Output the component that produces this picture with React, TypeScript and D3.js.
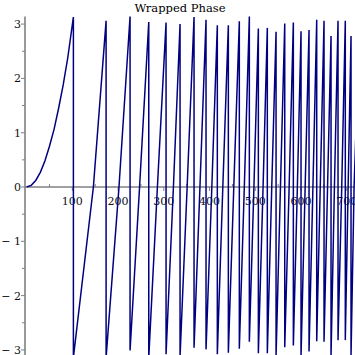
import React from "react";
import * as d3 from "d3";

// First (parabolic) rise
const firstX = [0, 10, 20, 30, 40, 50, 60, 70, 80, 90, 102.3];
const firstY = [0, 0.03, 0.12, 0.27, 0.48, 0.75, 1.06, 1.45, 1.88, 2.38, 3.13];

// x positions of each wrap (vertical drop)
const wrapX = [102.3, 173.8, 226.2, 267.1, 304.9, 335.5, 366.1, 392.3, 417.0, 441.1, 465.1, 487.0, 506.7, 526.3, 545.4, 564.4, 583.2, 600.0, 617.5, 634.3, 650.3, 665.6, 680.9, 696.8, 709.3];
// value just before each wrap
const peakY = [3.13, 3.06, 3.14, 3.04, 3.03, 3.0, 3.13, 3.08, 2.98, 2.98, 3.05, 3.14, 2.92, 2.93, 2.86, 3.01, 3.03, 2.87, 2.89, 3.08, 3.06, 2.78, 3.06, 3.06, 2.78];
// value just after each wrap
const troughY = [-3.14, -3.14, -3.01, -3.14, -3.08, -3.12, -2.96, -2.99, -3.08, -3.05, -2.98, -2.85, -3.06, -3.06, -3.12, -2.95, -2.92, -3.12, -3.03, -2.84, -2.85, -3.12, -2.82, -2.82, -3.12];
// zero crossings of the rising segments after each wrap
const zeroX = [146, 202, 247, 286, 321, 351, 379, 405, 429, 453, 476, 497, 517, 536, 555, 574, 592, 609, 626, 642, 658, 673, 689, 703, 716];
// end of the last partial rise
const lastX = 720;
const lastY = 1.0;

const xMajor = [100, 200, 300, 400, 500, 600, 700];
const xMinor = [50, 150, 250, 350, 450, 550, 650];
const yMajor = [-3, -2, -1, 0, 1, 2, 3];
const yMinor = [-2.5, -1.5, -0.5, 0.5, 1.5, 2.5];
const title = "Wrapped Phase";

export default function App() {
  const W = 355, H = 355;
  const x = d3.scaleLinear().domain([-3.5, 718]).range([25, 355]);
  const y = d3.scaleLinear().domain([-Math.PI, Math.PI]).range([357.6, 16.4]);

  const pts: [number, number][] = [];
  firstX.forEach((v, i) => pts.push([v, firstY[i]]));
  for (let k = 0; k < wrapX.length; k++) {
    if (k > 0) pts.push([wrapX[k], peakY[k]]);
    pts.push([wrapX[k], troughY[k]]);
    if (k < wrapX.length - 1) pts.push([zeroX[k], 0]);
  }
  pts.push([zeroX[zeroX.length - 1], 0]);
  pts.push([lastX, lastY]);

  const line = d3
    .line<[number, number]>()
    .x((d) => x(d[0]))
    .y((d) => y(d[1]));

  const x0 = x(-3.5);
  const y0 = y(0);
  const font = "DejaVu Serif";
  const fmt = (v: number) => (v < 0 ? "\u2212 " + Math.abs(v) : String(v));

  return (
    <svg
      width={W}
      height={H}
      style={{ position: "fixed", left: 0, top: 0, background: "#fff" }}
      fontFamily={font}
    >
      <defs>
        <clipPath id="plot">
          <rect x={x0} y={y(Math.PI) - 2} width={W - x0} height={H} />
        </clipPath>
      </defs>
      <text x={180} y={12} textAnchor="middle" fontSize={11.5} fill="#000">
        {title}
      </text>
      {/* axes */}
      <line x1={x0} x2={W} y1={y0} y2={y0} stroke="#808080" strokeWidth={1.6} />
      <line x1={x0} x2={x0} y1={y(Math.PI)} y2={H} stroke="#808080" strokeWidth={1.6} />
      {yMajor.map((v) => (
        <g key={"ym" + v}>
          <line x1={x0 - 4} x2={x0} y1={y(v)} y2={y(v)} stroke="#808080" strokeWidth={1} />
          <text x={x0 - 4} y={y(v) + 4} textAnchor="end" fontSize={11} fill="#111">
            {fmt(v)}
          </text>
        </g>
      ))}
      {yMinor.map((v) => (
        <line key={"yn" + v} x1={x0 - 3} x2={x0} y1={y(v)} y2={y(v)} stroke="#808080" strokeWidth={1} />
      ))}
      {xMajor.map((v) => (
        <g key={"xm" + v}>
          <line x1={x(v)} x2={x(v)} y1={y0} y2={y0 + 4} stroke="#808080" strokeWidth={1} />
          <text x={x(v)} y={y0 + 18} textAnchor="middle" fontSize={11} fill="#111">
            {fmt(v)}
          </text>
        </g>
      ))}
      {xMinor.map((v) => (
        <line key={"xn" + v} x1={x(v)} x2={x(v)} y1={y0 - 3} y2={y0} stroke="#808080" strokeWidth={1} />
      ))}
      <path
        d={line(pts) || ""}
        fill="none"
        stroke="#000080"
        strokeWidth={1.5}
        strokeLinejoin="miter"
        clipPath="url(#plot)"
      />
    </svg>
  );
}
